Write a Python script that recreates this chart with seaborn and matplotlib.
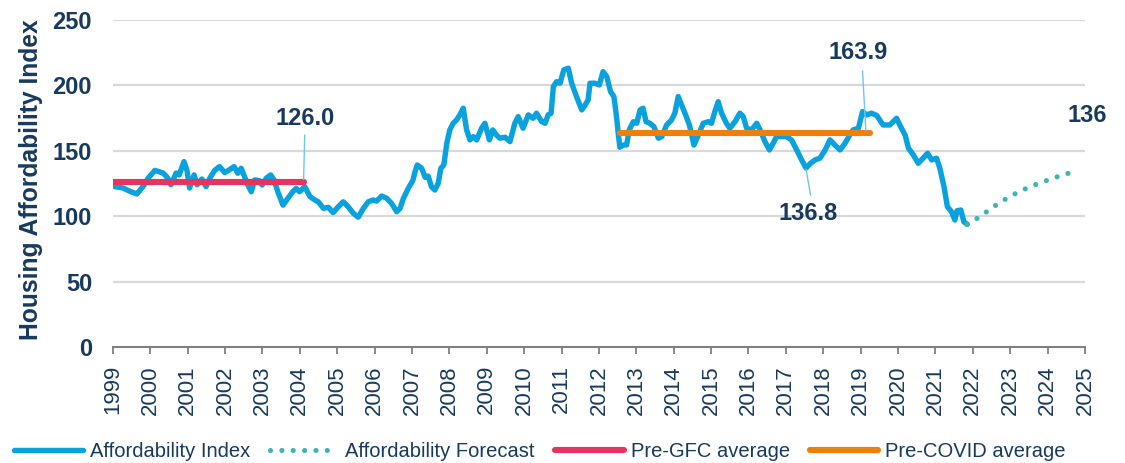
import numpy as np
import pandas as pd
import seaborn as sns
import matplotlib.pyplot as plt

# Housing affordability index (decimal years)
index_years = [1999.05, 1999.27, 1999.48, 1999.64, 1999.80, 1999.94, 2000.12, 2000.34, 2000.47, 2000.55,
               2000.69, 2000.77, 2000.90, 2000.98, 2001.05, 2001.17, 2001.25, 2001.38, 2001.49, 2001.59,
               2001.72, 2001.85, 2001.99, 2002.09, 2002.24, 2002.34, 2002.43, 2002.52, 2002.61, 2002.70,
               2002.79, 2002.92, 2002.99, 2003.10, 2003.22, 2003.31, 2003.41, 2003.55, 2003.68, 2003.81,
               2003.90, 2003.99, 2004.13, 2004.27, 2004.40, 2004.49, 2004.63, 2004.76, 2004.89, 2005.03,
               2005.16, 2005.29, 2005.43, 2005.56, 2005.70, 2005.83, 2005.96, 2006.05, 2006.19, 2006.32,
               2006.45, 2006.59, 2006.68, 2006.77, 2006.90, 2007.02, 2007.08, 2007.14, 2007.26, 2007.35,
               2007.43, 2007.52, 2007.61, 2007.70, 2007.77, 2007.85, 2007.93, 2008.01, 2008.10, 2008.19,
               2008.28, 2008.37, 2008.46, 2008.55, 2008.64, 2008.73, 2008.86, 2008.95, 2009.07, 2009.16,
               2009.26, 2009.35, 2009.49, 2009.62, 2009.75, 2009.84, 2009.97, 2010.11, 2010.24, 2010.33,
               2010.47, 2010.56, 2010.64, 2010.72, 2010.78, 2010.87, 2010.96, 2011.06, 2011.18, 2011.27,
               2011.40, 2011.54, 2011.63, 2011.71, 2011.76, 2011.89, 2012.01, 2012.11, 2012.21, 2012.31,
               2012.40, 2012.47, 2012.52, 2012.56, 2012.65, 2012.74, 2012.81, 2012.92, 2013.01, 2013.10,
               2013.18, 2013.26, 2013.36, 2013.47, 2013.59, 2013.68, 2013.81, 2013.94, 2014.03, 2014.12,
               2014.21, 2014.30, 2014.42, 2014.54, 2014.66, 2014.79, 2014.92, 2015.01, 2015.10, 2015.19,
               2015.28, 2015.41, 2015.50, 2015.64, 2015.77, 2015.86, 2015.95, 2016.08, 2016.22, 2016.31,
               2016.44, 2016.56, 2016.66, 2016.75, 2016.89, 2017.02, 2017.15, 2017.29, 2017.42, 2017.54,
               2017.66, 2017.78, 2017.91, 2018.05, 2018.18, 2018.31, 2018.45, 2018.58, 2018.71, 2018.80,
               2018.94, 2019.05, 2019.16, 2019.29, 2019.43, 2019.60, 2019.78, 2019.96, 2020.07, 2020.19,
               2020.28, 2020.41, 2020.54, 2020.67, 2020.79, 2020.90, 2021.03, 2021.12, 2021.23, 2021.32,
               2021.43, 2021.52, 2021.58, 2021.68, 2021.76, 2021.85]
index_values = [122.6, 121.5, 118.7, 117.0, 122.5, 129.0, 135.0, 133.0, 129.0, 124.0,
                133.0, 131.5, 141.7, 135.0, 121.5, 131.5, 124.0, 128.4, 122.6, 129.0,
                135.0, 137.9, 133.3, 135.0, 137.9, 132.8, 136.6, 130.2, 123.8, 118.7,
                127.7, 127.1, 123.8, 129.0, 131.5, 127.7, 118.7, 108.4, 113.7, 118.7,
                121.3, 118.7, 122.5, 115.0, 112.4, 111.0, 106.0, 106.8, 102.7, 107.3,
                111.0, 107.3, 102.2, 99.2, 106.0, 111.0, 112.4, 111.5, 115.4, 113.7,
                109.9, 103.4, 106.0, 113.7, 121.3, 127.1, 134.0, 139.1, 136.6, 129.7,
                130.7, 122.5, 120.0, 125.1, 136.6, 139.1, 155.7, 165.9, 171.0, 173.5,
                177.4, 182.5, 165.9, 158.3, 160.8, 158.3, 167.2, 171.0, 158.3, 165.9,
                162.0, 159.6, 160.3, 157.0, 171.0, 176.1, 167.2, 177.4, 174.8, 178.7,
                172.2, 171.0, 177.4, 178.7, 199.0, 202.8, 201.6, 211.8, 213.1, 201.6,
                191.4, 181.2, 185.0, 188.8, 201.6, 201.6, 200.3, 210.5, 206.6, 195.2,
                191.4, 176.1, 162.0, 152.7, 154.4, 154.4, 165.9, 172.2, 171.0, 181.2,
                182.5, 172.2, 171.0, 168.4, 159.6, 160.8, 169.7, 173.5, 178.7, 191.4,
                185.0, 178.7, 169.7, 154.4, 162.0, 171.0, 172.2, 171.0, 179.9, 187.5,
                178.7, 171.0, 167.2, 172.2, 178.7, 176.1, 167.2, 165.9, 171.0, 165.9,
                157.0, 150.6, 155.7, 160.8, 160.8, 160.8, 158.3, 150.6, 143.0, 136.8,
                140.4, 143.0, 144.3, 150.6, 158.3, 154.4, 150.6, 155.7, 162.0, 165.9,
                167.2, 179.9, 177.4, 178.7, 177.0, 169.7, 169.7, 174.8, 168.4, 162.0,
                151.9, 146.8, 140.4, 144.3, 148.1, 143.0, 144.3, 136.6, 122.5, 107.3,
                103.4, 97.1, 104.2, 104.7, 95.8, 93.8]

forecast_years = [2021.85, 2022.0, 2022.25, 2022.5, 2022.75, 2023.0, 2023.25, 2023.5,
                  2023.75, 2024.0, 2024.25, 2024.5, 2024.75]
forecast_values = [93.8, 96.0, 101.0, 106.0, 111.0, 115.0, 119.0, 122.0,
                   125.0, 127.5, 130.0, 132.3, 134.3]

pre_gfc_period = [1999.0, 2004.1]
pre_gfc_avg = 126.0
pre_covid_period = [2012.56, 2019.25]
pre_covid_avg = 163.9

year_ticks = list(range(1999, 2026))

navy = "#173A5E"
blue = "#0AA2DE"
teal = "#3DB5B5"
red = "#E5345F"
orange = "#F07E0A"
callout = "#6CC6F2"

sns.set_theme(style="white")
plt.rcParams["font.family"] = ["Liberation Sans", "DejaVu Sans"]

fig = plt.figure(figsize=(11.25, 4.63), dpi=100)
ax = fig.add_axes([0.1004, 0.2505, 0.864, 0.7065])

hist = pd.DataFrame({"year": index_years, "value": index_values})
fc = pd.DataFrame({"year": forecast_years, "value": forecast_values})
gfc = pd.DataFrame({"year": pre_gfc_period, "value": [pre_gfc_avg] * 2})
covid = pd.DataFrame({"year": pre_covid_period, "value": [pre_covid_avg] * 2})

for y in range(50, 251, 50):
    ax.axhline(y, color="#D9D9D9", lw=1.6, zorder=0)

sns.lineplot(data=hist, x="year", y="value", ax=ax, color=blue, lw=3.9,
             estimator=None, sort=False, label="Affordability Index")
sns.lineplot(data=fc, x="year", y="value", ax=ax, color=teal, lw=3.7,
             estimator=None, sort=False, label="Affordability Forecast",
             linestyle=(0, (0.01, 2.2)), dash_capstyle="round")
sns.lineplot(data=gfc, x="year", y="value", ax=ax, color=red, lw=4.4,
             estimator=None, label="Pre-GFC average", solid_capstyle="round")
sns.lineplot(data=covid, x="year", y="value", ax=ax, color=orange, lw=4.4,
             estimator=None, label="Pre-COVID average", solid_capstyle="round")

# callouts
callouts = [
    ("126.0", 2004.13, 175, [2004.1, 2004.13], [128, 162]),
    ("163.9", 2018.93, 225, [2019.14, 2019.05], [165, 211]),
    ("136.8", 2017.59, 102, [2017.54, 2017.66], [136, 116]),
    ("136", 2025.05, 177, [2025.03, 2025.03], [137, 166]),
]
for txt, tx, ty, lx, ly in callouts:
    ax.plot(lx, ly, color=callout, lw=1.0, zorder=5)
    ax.text(tx, ty, txt, ha="center", va="center", fontsize=17, fontweight="bold", color=navy)

ax.set_xlim(1999, 2025)
ax.set_ylim(0, 250)
ax.set_xticks(year_ticks)
ax.set_xticklabels([str(y) for y in year_ticks], rotation=90, fontsize=16, color=navy)
ax.set_yticks(range(0, 251, 50))
ax.set_yticklabels([str(v) for v in range(0, 251, 50)], fontsize=17, fontweight="bold", color=navy)
ax.tick_params(axis="x", length=5, width=1.3, color="#808080", pad=8, bottom=True)
ax.tick_params(axis="y", length=0, pad=15)
ax.set_xlabel("")
ax.set_ylabel("Housing Affordability Index", fontsize=17.7, fontweight="bold", color=navy)
ax.yaxis.set_label_coords(-0.0715, 0.511)

for side in ["top", "right", "left"]:
    ax.spines[side].set_visible(False)
ax.spines["bottom"].set_color("#808080")
ax.spines["bottom"].set_linewidth(1.5)

ax.legend_.remove()
handles, labels = ax.get_legend_handles_labels()
leg = fig.legend(handles, labels, loc="lower center", bbox_to_anchor=(0.480, -0.035), ncol=4,
                 frameon=False, fontsize=14.5, handlelength=3.4, handletextpad=0.35,
                 columnspacing=1.0)
for t in leg.get_texts():
    t.set_color(navy)

fig.savefig("out.png", dpi=100)
